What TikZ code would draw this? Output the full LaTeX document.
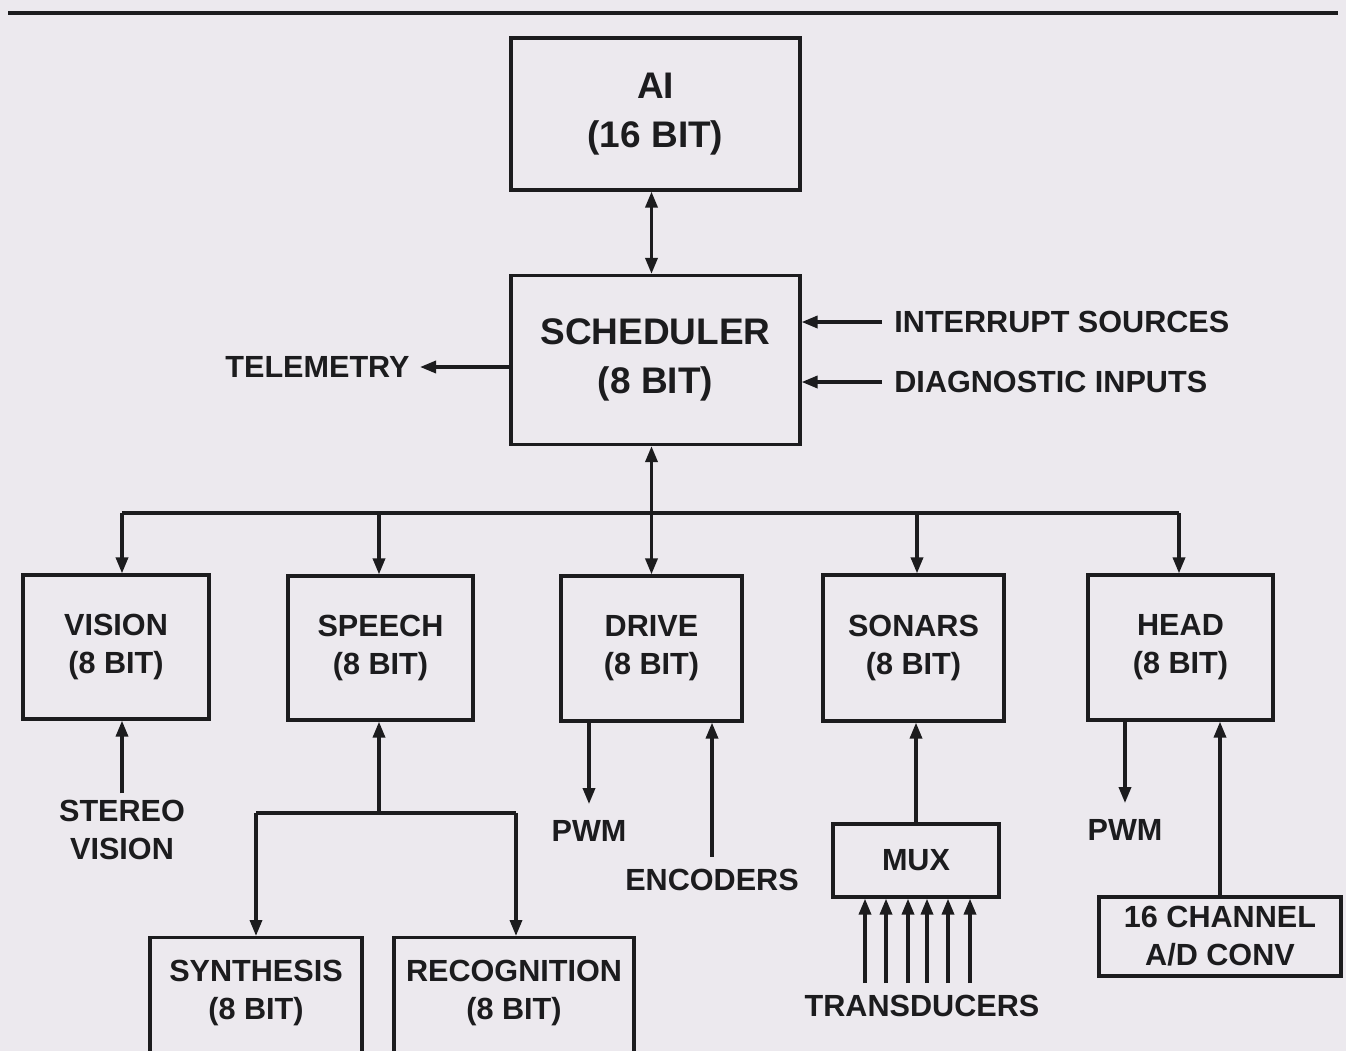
\documentclass[tikz,border=0pt]{standalone}
\usepackage{fontspec}
\setmainfont{Liberation Sans}
\usetikzlibrary{arrows.meta,calc}
\definecolor{bg}{RGB}{236,233,238}
\definecolor{ink}{RGB}{28,28,30}
\newcommand\smlfont{\fontsize{15.3}{19}\selectfont\bfseries}
\newcommand\bigfont{\fontsize{18.5}{24.5}\selectfont\bfseries}
\begin{document}
\begin{tikzpicture}[x=0.5pt,y=-0.5pt,
  box/.style={draw=ink, line width=1.6pt, align=center, font=\smlfont, text=ink, inner sep=0pt},
  bigbox/.style={box, font=\bigfont},
  lbl/.style={align=center, font=\smlfont, text=ink, inner sep=3pt},
  conn/.style={draw=ink, line width=1.7pt},
  arr/.style={conn, -{Triangle[length=8pt,width=6pt]}},
  both/.style={conn, {Triangle[length=8pt,width=6pt]}-{Triangle[length=8pt,width=6pt]}}]
\useasboundingbox (0,0) rectangle (1346,1051);
\fill[bg] (0,0) rectangle (1346,1051);
\coordinate (rl) at (8,13);
\coordinate (rr) at (1338,13);
\draw[ink, line width=2.4pt] (rl) -- (rr);

% main boxes
\node[bigbox, minimum width=144.5pt, minimum height=76pt] (ai) at (655.5,114) {AI\\(16 BIT)};
\node[bigbox, minimum width=144.5pt, minimum height=84.5pt] (sched) at (655.5,360) {SCHEDULER\\(8 BIT)};

\node[box, minimum width=93pt, minimum height=72pt] (vision) at (116,647) {VISION\\(8 BIT)};
\node[box, minimum width=92.5pt, minimum height=72pt] (speech) at (380.5,648) {SPEECH\\(8 BIT)};
\node[box, minimum width=90.5pt, minimum height=72.5pt] (drive) at (651.5,648.5) {DRIVE\\(8 BIT)};
\node[box, minimum width=90.5pt, minimum height=73pt] (sonars) at (913.5,648) {SONARS\\(8 BIT)};
\node[box, minimum width=92.5pt, minimum height=72.5pt] (head) at (1180.5,647.5) {HEAD\\(8 BIT)};

\node[box, minimum width=83pt, minimum height=36.5pt] (mux) at (916,860.5) {MUX};
\node[box, minimum width=121pt, minimum height=39.5pt] (ad) at (1220,936.5) {16 CHANNEL\\A/D CONV};

\node[box, minimum width=106pt, minimum height=100pt, anchor=north] (synth) at (256,936) {};
\node[lbl] (synthtxt) at (256,993) {SYNTHESIS\\(8 BIT)};
\node[box, minimum width=120pt, minimum height=100pt, anchor=north] (recog) at (514,936) {};
\node[lbl] (recogtxt) at (514,993) {RECOGNITION\\(8 BIT)};

% labels
\node[lbl, anchor=east, inner xsep=5pt] (tele) at (420,367) {TELEMETRY};
\node[lbl, anchor=west, inner xsep=6pt] (intr) at (882,322) {INTERRUPT SOURCES};
\node[lbl, anchor=west, inner xsep=6pt] (diag) at (882,382) {DIAGNOSTIC INPUTS};
\node[lbl] (stereo) at (122,829.5) {STEREO\\VISION};
\node[lbl] (pwma) at (589,831) {PWM};
\node[lbl] (enc) at (712,880) {ENCODERS};
\node[lbl] (pwmb) at (1125,830) {PWM};
\node[lbl] (trans) at (922,1006) {TRANSDUCERS};

% AI <-> scheduler
\draw[both] (ai.south -| drive.north) -- (sched.north -| drive.north);
% scheduler side arrows
\draw[arr] (tele.east -| sched.west) -- (tele.east);
\draw[arr] (intr.west) -- (intr.west -| sched.east);
\draw[arr] (diag.west) -- (diag.west -| sched.east);

% bus
\coordinate (bus) at (651,513);
\coordinate (dv) at (122,513);
\coordinate (ds) at (379,513);
\coordinate (dn) at (917,513);
\coordinate (dh) at (1179,513);
\draw[conn] (dv) -- (dh);
\draw[arr] (dv) -- (dv |- vision.north);
\draw[arr] (ds) -- (ds |- speech.north);
\draw[arr] (dn) -- (dn |- sonars.north);
\draw[arr] (dh) -- (dh |- head.north);
\draw[both] (sched.south -| drive.north) -- (drive.north);

% vision input
\draw[arr] (stereo.north) -- (stereo.north |- vision.south);

% speech tree
\coordinate (sb) at (379,813);
\coordinate (sbl) at (256,813);
\coordinate (sbr) at (516,813);
\draw[arr] (sb) -- (sb |- speech.south);
\draw[conn] (sbl) -- (sbr);
\draw[arr] (sbl) -- (sbl |- synth.north);
\draw[arr] (sbr) -- (sbr |- recog.north);

% drive
\draw[arr] (pwma.north |- drive.south) -- ([yshift=5pt]pwma.north);
\draw[arr] ([yshift=3pt]enc.north) -- (enc.north |- drive.south);

% sonars
\draw[arr] (mux.north) -- (mux.north |- sonars.south);
\foreach \i/\x in {1/865,2/886,3/908,4/927,5/948,6/970}{
  \coordinate (t\i) at (\x,983);
  \draw[arr] (t\i) -- (t\i |- mux.south);
}

% head
\draw[arr] (pwmb.north |- head.south) -- ([yshift=5pt]pwmb.north);
\draw[arr] (ad.north) -- (ad.north |- head.south);
\end{tikzpicture}
\end{document}
